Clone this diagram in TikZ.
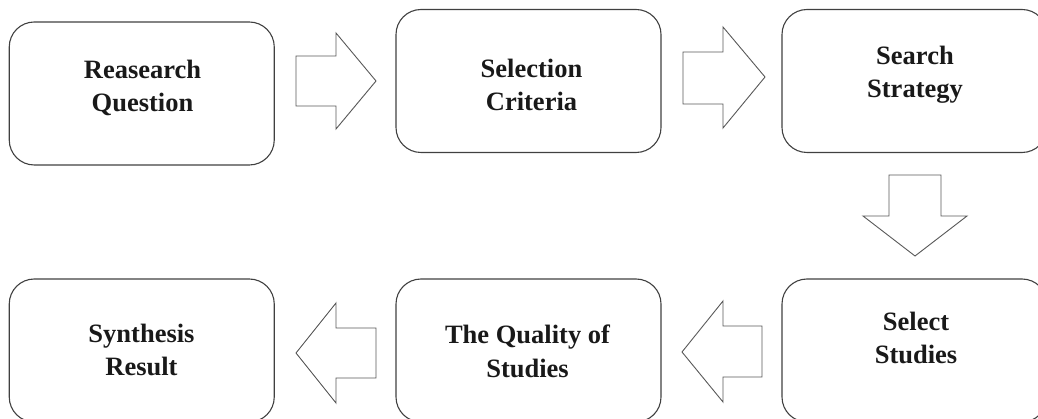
\documentclass[tikz,border=0pt]{standalone}
\usepackage{fontspec}
\setmainfont{Liberation Serif}
\begin{document}
\begin{tikzpicture}[x=1pt,y=-1pt,
  box/.style={draw=black!75,line width=1.1pt,rounded corners=25pt,minimum width=265pt,minimum height=143pt,inner sep=0pt},
  lbl/.style={align=center,anchor=base,inner sep=0pt,font=\fontsize{26.5}{33}\selectfont\bfseries,text=black!90},
  barrow/.style={draw=black!65,line width=0.9pt,fill=white,line join=miter}
]
\useasboundingbox (0,0) rectangle (1038,419);
% boxes
\node[box] (b1) at (141.75,93.5) {};
\node[box] (b2) at (528.5,81) {};
\node[box] (b3) at (914.5,81) {};
\node[box] (b4) at (914.5,350.5) {};
\node[box] (b5) at (528.5,350.5) {};
\node[box] (b6) at (141.75,350.5) {};
% labels (anchor base = baseline of the last line)
\node[lbl] (t1) at (142.5,112) {Reasearch\\Question};
\node[lbl] (t2) at (531.5,111) {Selection\\Criteria};
\node[lbl] (t3) at (915,98) {Search\\Strategy};
\node[lbl] (t4) at (916,363) {Select\\Studies};
\node[lbl] (t5) at (527.5,377) {The Quality of\\Studies};
\node[lbl] (t6) at (141.5,375) {Synthesis\\Result};
% block arrows
\draw[barrow] (296,56) -- (336,56) -- (336,33) -- (376,81) -- (336,129) -- (336,106) -- (296,106) -- cycle;
\draw[barrow] (683,52) -- (723,52) -- (723,27) -- (765,77) -- (723,128) -- (723,104) -- (683,104) -- cycle;
\draw[barrow] (889,175) -- (941,175) -- (941,216) -- (967,216) -- (915,256) -- (863,216) -- (889,216) -- cycle;
\draw[barrow] (762,326) -- (723,326) -- (723,301) -- (682,352) -- (723,402) -- (723,377) -- (762,377) -- cycle;
\draw[barrow] (376,328) -- (336,328) -- (336,303) -- (296,353) -- (336,403) -- (336,378) -- (376,378) -- cycle;
\end{tikzpicture}
\end{document}
